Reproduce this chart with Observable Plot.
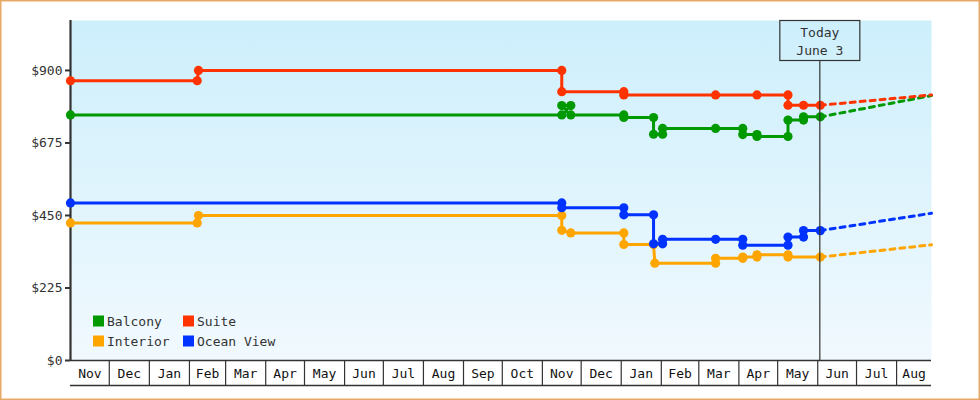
<!DOCTYPE html>
<html>
<head>
<meta charset="utf-8">
<script src="https://cdn.jsdelivr.net/npm/d3@7"></script>
<script src="https://cdn.jsdelivr.net/npm/@observablehq/plot@0.6"></script>
<style>
  html, body { margin: 0; padding: 0; background: #fff; }
  #chart svg { display: block; }
</style>
</head>
<body>
<div id="chart"></div>
<script>
// ---- data ----
const seriesNames = ["Balcony", "Suite", "Interior", "Ocean View"];
const seriesColors = ["#009900", "#ff3300", "#ffa500", "#0033ff"];
const yTicks = [0, 225, 450, 675, 900];
const monthLabels = ["Nov","Dec","Jan","Feb","Mar","Apr","May","Jun","Jul","Aug","Sep","Oct","Nov","Dec","Jan","Feb","Mar","Apr","May","Jun","Jul","Aug"];
const domainStart = "2022-11-01";
const domainEnd = "2024-08-28";
const todayDate = "2024-06-03";
const todayLabel = ["Today", "June 3"];

const balcony = [
  ["2022-11-01", 762], ["2023-11-16", 762], ["2023-11-23", 791], ["2023-11-16", 791], ["2023-11-23", 762],
  ["2024-01-03", 762], ["2024-01-03", 754], ["2024-01-26", 754], ["2024-01-26", 702], ["2024-02-02", 702],
  ["2024-02-02", 720], ["2024-03-14", 720], ["2024-04-04", 720], ["2024-04-04", 701], ["2024-04-15", 701],
  ["2024-04-15", 695], ["2024-05-09", 695], ["2024-05-09", 746], ["2024-05-21", 746], ["2024-05-21", 756],
  ["2024-06-03", 756]
];
const suite = [
  ["2022-11-01", 868], ["2023-02-07", 868], ["2023-02-08", 900], ["2023-11-16", 900], ["2023-11-16", 834],
  ["2024-01-03", 834], ["2024-01-03", 824], ["2024-03-14", 824], ["2024-04-15", 824], ["2024-05-09", 824],
  ["2024-05-09", 792], ["2024-05-21", 792], ["2024-06-03", 792]
];
const interior = [
  ["2022-11-01", 427], ["2023-02-07", 427], ["2023-02-08", 450], ["2023-11-16", 450], ["2023-11-16", 404],
  ["2023-11-23", 396], ["2024-01-03", 396], ["2024-01-03", 360], ["2024-01-26", 360], ["2024-01-27", 302],
  ["2024-03-14", 302], ["2024-03-14", 317], ["2024-04-04", 317], ["2024-04-04", 321], ["2024-04-15", 321],
  ["2024-04-15", 328], ["2024-05-09", 328], ["2024-05-09", 321], ["2024-06-03", 321]
];
const oceanView = [
  ["2022-11-01", 489], ["2023-11-16", 489], ["2023-11-16", 474], ["2024-01-03", 474], ["2024-01-03", 452],
  ["2024-01-26", 452], ["2024-01-26", 362], ["2024-02-02", 362], ["2024-02-02", 376], ["2024-03-14", 376],
  ["2024-04-04", 376], ["2024-04-04", 358], ["2024-05-09", 358], ["2024-05-09", 383], ["2024-05-21", 383],
  ["2024-05-21", 403], ["2024-06-03", 403]
];
// forecast: value today -> value at end of axis
const forecastEndValues = [822, 824, 359, 457];

// ---- build tables ----
const seriesData = [balcony, suite, interior, oceanView];
const parse = d3.utcParse("%Y-%m-%d");
const history = [];
seriesData.forEach((arr, i) => arr.forEach(([d, v]) => history.push({series: seriesNames[i], date: parse(d), price: v})));
const forecast = [];
seriesData.forEach((arr, i) => {
  const last = arr[arr.length - 1];
  forecast.push({series: seriesNames[i], date: parse(last[0]), price: last[1]});
  forecast.push({series: seriesNames[i], date: parse(domainEnd), price: forecastEndValues[i]});
});

const x0 = parse(domainStart), x1 = parse(domainEnd), today = parse(todayDate);
const monthStarts = d3.utcMonth.range(x0, x1);
const monthMids = monthStarts.map((s, i) => {
  const e = i + 1 < monthStarts.length ? monthStarts[i + 1] : x1;
  return new Date((+s + +e) / 2);
});
const midLabel = new Map(monthMids.map((d, i) => [+d, monthLabels[i]]));

const font = "DejaVu Sans Mono";
const ink = "#333";

const chart = Plot.plot({
  width: 980,
  height: 400,
  marginLeft: 70,
  marginRight: 49,
  marginTop: 20,
  marginBottom: 40,
  style: {fontFamily: font, fontSize: "13px", color: ink, background: "transparent"},
  x: {type: "utc", domain: [x0, x1]},
  y: {domain: [0, 1055]},
  color: {domain: seriesNames, range: seriesColors},
  marks: [
    Plot.frame({fill: "url(#bgGrad)", stroke: "none"}),
    Plot.axisY({ticks: yTicks, tickFormat: d => "$" + d, tickSize: 5, tickPadding: 3, stroke: ink, strokeWidth: 2, fill: ink, fontSize: 13, label: null}),
    Plot.axisX({ticks: monthStarts.slice(1), tickSize: 25, tickFormat: () => "", stroke: ink, strokeWidth: 1.2, label: null}),
    Plot.axisX({ticks: monthMids, tickSize: 0, tickPadding: 8, tickFormat: d => midLabel.get(+d), fill: "#111", fontSize: 13, label: null}),
    Plot.ruleY([0], {stroke: ink, strokeWidth: 1.5}),
    Plot.ruleY([0], {dy: 25, stroke: ink, strokeWidth: 1.5}),
    Plot.ruleX([x0], {stroke: ink, strokeWidth: 2.2}),
    Plot.line(forecast, {x: "date", y: "price", z: "series", stroke: "series", strokeWidth: 3, strokeDasharray: "5,5"}),
    Plot.line(history, {x: "date", y: "price", z: "series", stroke: "series", strokeWidth: 3}),
    Plot.dot(history, {x: "date", y: "price", fill: "series", r: 4.6, stroke: "none"})
  ]
});

const svg = d3.select(chart);
// gradient background definition
const defs = svg.insert("defs", ":first-child");
const grad = defs.append("linearGradient").attr("id", "bgGrad").attr("x1", 0).attr("y1", 0).attr("x2", 0).attr("y2", 1);
grad.append("stop").attr("offset", "0%").attr("stop-color", "#cdeffc");
grad.append("stop").attr("offset", "100%").attr("stop-color", "#f1f9fe");

const xs = chart.scale("x"), ys = chart.scale("y");
const tx = xs.apply(today);
const plotTop = ys.apply(1055);
// today marker
const tg = svg.append("g");
tg.append("line").attr("x1", tx).attr("x2", tx).attr("y1", plotTop + 40).attr("y2", ys.apply(0)).attr("stroke", ink).attr("stroke-width", 1.2);
tg.append("rect").attr("x", tx - 40).attr("y", plotTop + 0.5).attr("width", 80).attr("height", 40).attr("fill", "none").attr("stroke", ink).attr("stroke-width", 1.2);
todayLabel.forEach((t, i) => {
  tg.append("text").attr("x", tx).attr("y", plotTop + 17 + i * 18).attr("text-anchor", "middle")
    .attr("font-family", font).attr("font-size", 13).attr("fill", ink).text(t);
});

// legend
const lg = svg.append("g").attr("font-family", font).attr("font-size", 13).attr("fill", ink).attr("text-anchor", "start");
const legendCols = [93, 183];
const legendRows = [321, 341];
seriesNames.forEach((name, i) => {
  const lx = legendCols[i % 2], ly = legendRows[Math.floor(i / 2)];
  lg.append("rect").attr("x", lx).attr("y", ly - 5.5).attr("width", 11).attr("height", 11).attr("fill", seriesColors[i]);
  lg.append("text").attr("x", lx + 14).attr("y", ly + 4.5).attr("text-anchor", "start").text(name);
});

// outer border
svg.append("rect").attr("x", 0.75).attr("y", 0.75).attr("width", 978.5).attr("height", 398.5)
  .attr("fill", "none").attr("stroke", "#e8a865").attr("stroke-width", 1.5);

document.getElementById("chart").appendChild(chart);
</script>
</body>
</html>
